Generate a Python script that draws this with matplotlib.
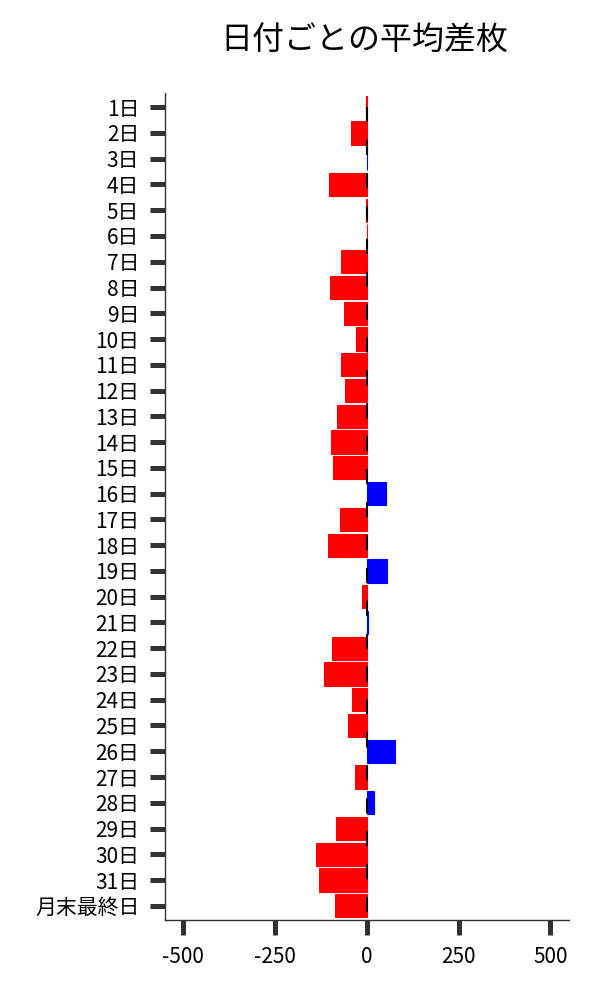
import numpy as np
import matplotlib
matplotlib.use("Agg")
import matplotlib.pyplot as plt

plt.rcParams['font.family'] = ['Noto Sans CJK JP', 'DejaVu Sans']

days = [f"{i}日" for i in range(1, 32)] + ["月末最終日"]
diffs = [-3, -43, 1, -103, -3, -1, -70, -100, -62, -30,
         -70, -60, -81, -98, -92, 51, -73, -106, 54, -14,
         3, -95, -117, -41, -51, 76, -33, 19, -84, -138,
         -130, -87]
xticks = [-500, -250, 0, 250, 500]

colors = ['blue' if v > 0 else 'red' for v in diffs]
y = np.arange(len(days))

fig = plt.figure(figsize=(6, 10), dpi=100)
ax = fig.add_axes([0.275, 0.08, 0.673, 0.827])

ax.barh(y, diffs, height=0.9, color=colors, edgecolor=colors, linewidth=0.8)
ax.axvline(0, color='black', linewidth=1.5, linestyle=(12, (7.2, 8.6)), zorder=3)

ax.set_yticks(y)
ax.set_yticklabels(days, fontsize=15)
ax.set_xticks(xticks)
ax.set_xticklabels([str(t) for t in xticks], fontsize=15)
ax.set_xlim(-550, 550)
ax.set_ylim(len(days) - 0.45, -0.55)

ax.tick_params(axis='both', length=11, width=3.6, color='#333333')
ax.tick_params(axis='y', pad=7.5)
ax.tick_params(axis='x', pad=8)
for s in ['top', 'right']:
    ax.spines[s].set_visible(False)
for s in ['left', 'bottom']:
    ax.spines[s].set_linewidth(1.0)
    ax.spines[s].set_color('#333333')

fig.suptitle("日付ごとの平均差枚", fontsize=23, x=0.608, y=0.975)

fig.savefig("out.png")
